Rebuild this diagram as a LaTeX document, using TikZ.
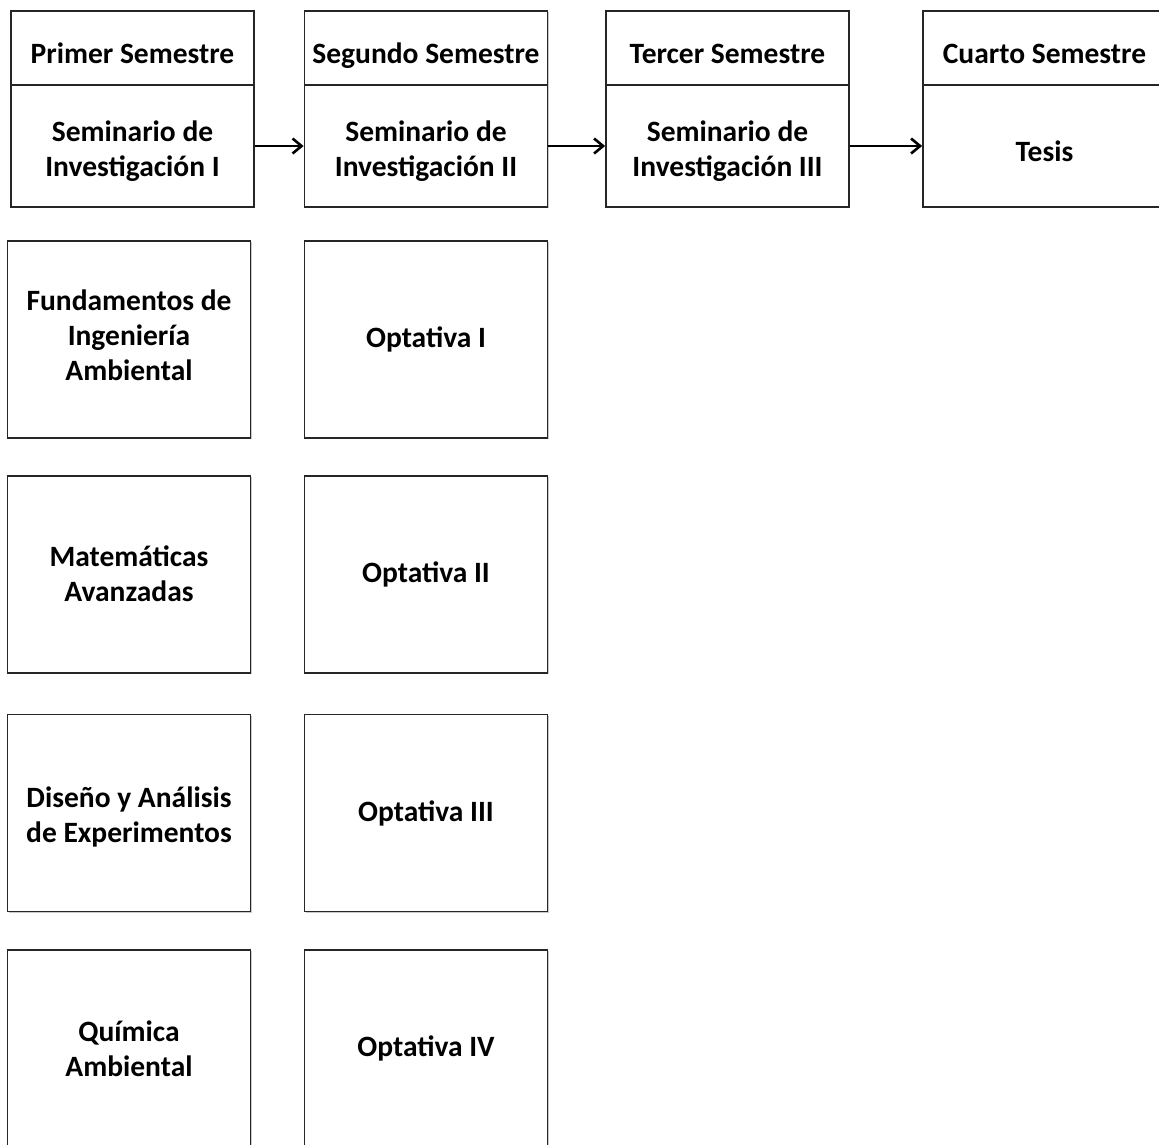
\documentclass[tikz,border=0pt]{standalone}
\usepackage{fontspec}
\setmainfont{Carlito}[BoldFont={Carlito Bold}]
\usetikzlibrary{shadows,arrows.meta}
\tikzset{
  box/.style={draw=black!85, line width=1.8pt, fill=white, minimum width=243pt, inner sep=0pt,
     drop shadow={shadow xshift=1.2pt, shadow yshift=-1.2pt, opacity=0.35, fill=black!60}},
  txt/.style={align=center, font=\bfseries\fontsize{29.5}{35}\selectfont, inner sep=0pt,
     execute at begin node={\rule{0pt}{24pt}}, execute at end node={\rule[-8pt]{0pt}{8pt}}},
  htxt/.style={txt, yshift=-7.5pt},
  btxt/.style={txt, yshift=-7pt},
  ctxt/.style={txt},
  hd/.style={box, minimum height=74pt},
  bd/.style={box, minimum height=122pt},
  cs/.style={box, minimum height=197pt},
  link/.style={draw=black, line width=2.6pt, -{Straight Barb[length=9pt,width=15pt]}}
}
\begin{document}
\begin{tikzpicture}[x=1pt,y=-1pt]
\useasboundingbox (0,0) rectangle (1159,1144);
% header row
\node[bd, label={[btxt]center:Seminario de\\Investigación I}] (b1) at (132.5,146) {};
\node[hd, label={[htxt]center:Primer Semestre}] (h1) at (132.5,48) {};
\node[bd, label={[btxt]center:Seminario de\\Investigación II}] (b2) at (426,146) {};
\node[hd, label={[htxt]center:Segundo Semestre}] (h2) at (426,48) {};
\node[bd, label={[btxt]center:Seminario de\\Investigación III}] (b3) at (727.5,146) {};
\node[hd, label={[htxt]center:Tercer Semestre}] (h3) at (727.5,48) {};
\node[bd, label={[btxt]center:Tesis}] (b4) at (1044.5,146) {};
\node[hd, label={[htxt]center:Cuarto Semestre}] (h4) at (1044.5,48) {};
\path[link] (b1.east) -- (b2.west);
\path[link] (b2.east) -- (b3.west);
\path[link] (b3.east) -- (b4.west);
% course columns
\node[cs, label={[ctxt]center:Fundamentos de\\Ingeniería\\Ambiental}] (c1) at (129,339.5) {};
\node[cs, label={[ctxt]center:Optativa I}] (o1) at (426,339.5) {};
\node[cs, label={[ctxt, yshift=-3pt]center:Matemáticas\\Avanzadas}] (c2) at (129,574.5) {};
\node[cs, label={[ctxt]center:Optativa II}] (o2) at (426,574.5) {};
\node[cs, label={[ctxt, yshift=-6pt]center:Diseño y Análisis\\de Experimentos}] (c3) at (129,813) {};
\node[cs, label={[ctxt]center:Optativa III}] (o3) at (426,813) {};
\node[cs, label={[ctxt, yshift=-4pt]center:Química\\Ambiental}] (c4) at (129,1048.5) {};
\node[cs, label={[ctxt]center:Optativa IV}] (o4) at (426,1048.5) {};
\end{tikzpicture}
\end{document}
